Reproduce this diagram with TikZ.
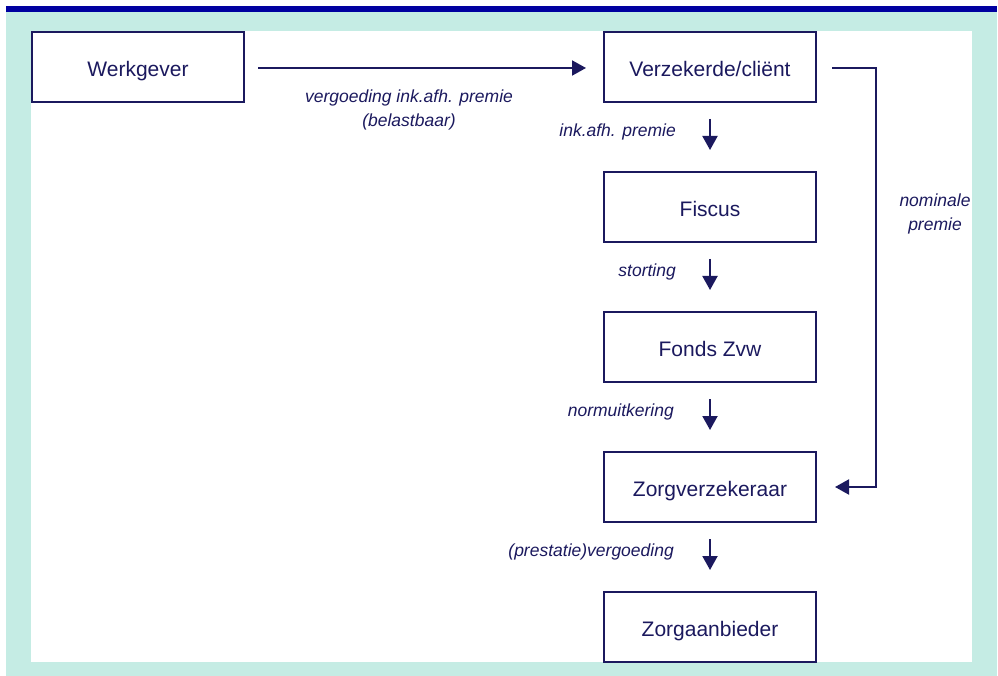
\documentclass[tikz,border=0pt]{standalone}
\usepackage{fontspec}
\setmainfont{Liberation Sans}
\usetikzlibrary{arrows.meta}
\definecolor{navy}{RGB}{27,25,94}
\definecolor{mint}{RGB}{197,236,228}
\definecolor{barblue}{RGB}{0,0,160}
\begin{document}
\begin{tikzpicture}[x=1pt,y=-1pt,
  box/.style={draw=navy,line width=2pt,fill=white,minimum width=212pt,minimum height=70pt,outer sep=0pt,inner sep=0pt,text height=19pt,text depth=0pt,text=navy,font=\fontsize{21}{25}\selectfont},
  lbl/.style={text=navy,font=\fontsize{17.5}{23.5}\selectfont\itshape,inner sep=0pt},
  arr/.style={draw=navy,line width=2pt,-{Triangle[length=14pt,width=15pt]}}]
\useasboundingbox (0,0) rectangle (998,676);
\fill[mint] (6,12) rectangle (997,676);
\fill[barblue] (6,6) rectangle (997,12);
\fill[white] (31,31) rectangle (972,662);
\node[box] (w) at (138,67) {Werkgever};
\node[box] (v) at (710,67) {Verzekerde/cliënt};
\node[box] (f) at (710,207) {Fiscus};
\node[box] (fz) at (710,347) {Fonds Zvw};
\node[box] (zv) at (710,487) {Zorgverzekeraar};
\node[box] (za) at (710,627) {Zorgaanbieder};
\draw[arr] ([xshift=14pt,yshift=-1pt]w.east) -- ([xshift=-18pt,yshift=-1pt]v.west);
\draw[arr] ([yshift=-17pt]v.south) -- ([yshift=22pt]f.north);
\draw[arr] ([yshift=-17pt]f.south) -- ([yshift=22pt]fz.north);
\draw[arr] ([yshift=-17pt]fz.south) -- ([yshift=22pt]zv.north);
\draw[arr] ([yshift=-17pt]zv.south) -- ([yshift=22pt]za.north);
\coordinate (rt) at (876,68);
\draw[arr] ([xshift=16pt,yshift=-1pt]v.east) -- (rt) |- ([xshift=19pt]zv.east);
\node[lbl,align=center] (l1) at (409,110) {vergoeding ink.afh. premie\\(belastbaar)};
\node[lbl,anchor=east] (l2) at (676,132) {ink.afh. premie};
\node[lbl,anchor=east] (l3) at (676,272) {storting};
\node[lbl,anchor=east] (l4) at (674,412) {normuitkering};
\node[lbl,anchor=east] (l5) at (674,552) {(prestatie)vergoeding};
\node[lbl,align=center] (l6) at (935,214) {nominale\\premie};
\end{tikzpicture}
\end{document}
